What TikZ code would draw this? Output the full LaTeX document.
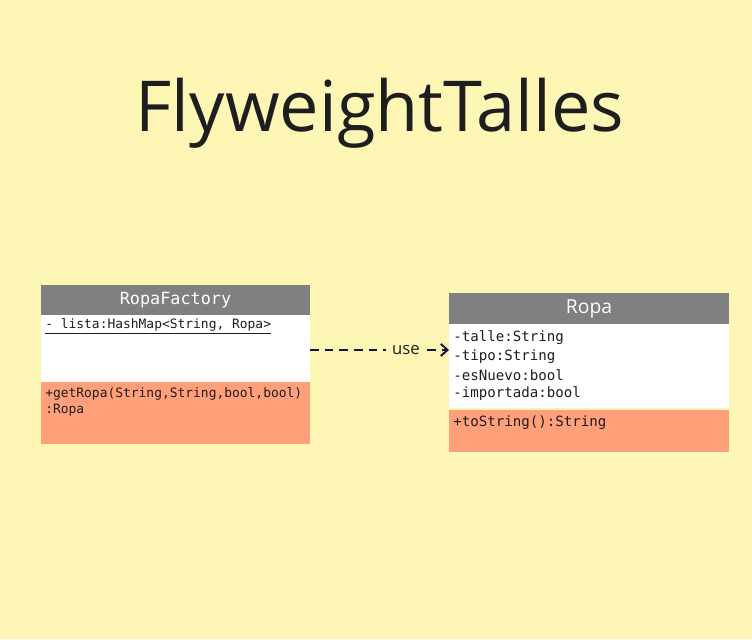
\documentclass[tikz,border=0pt]{standalone}
\usepackage{fontspec}
\setmainfont{Open Sans}
\newfontfamily\monof{DejaVu Sans Mono}
\usetikzlibrary{arrows.meta}
\definecolor{bg}{HTML}{FEF6B4}
\definecolor{hdr}{HTML}{808080}
\definecolor{meth}{HTML}{FFA07A}
\definecolor{ink}{HTML}{1E1E1E}
\definecolor{lineC}{HTML}{14143C}
\tikzset{
  comp/.style={anchor=north west, inner sep=0pt, outer sep=0pt, draw=none},
  txt/.style={anchor=west, inner sep=0pt, text=ink},
  smallmono/.style={txt, font=\monof\fontsize{9.7}{11}\selectfont},
  bigmono/.style={txt, font=\monof\fontsize{10.6}{12}\selectfont},
}
\begin{document}
\begin{tikzpicture}[x=0.75pt,y=-0.75pt]
\fill[bg] (0,0) rectangle (752,639);
\useasboundingbox (0,0) rectangle (752,639);

\node[text=ink, font=\fontsize{52.7}{56}\selectfont] (title) at (380,113) {FlyweightTalles};

% RopaFactory
\node[comp, fill=hdr, minimum width=201.75pt, minimum height=22.5pt] (rfh) at (41,285) {};
\node[text=white, font=\monof\fontsize{12.6}{14}\selectfont] (rfname) at (rfh.center) {RopaFactory};
\node[comp, fill=white, minimum width=201.75pt, minimum height=50.25pt] (rfa) at (41,315) {};
\node[comp, fill=meth, minimum width=201.75pt, minimum height=46.5pt] (rfm) at (41,382) {};
\node[smallmono] (rfa1) at (45,326) {\underline{- lista:HashMap<String, Ropa>}};
\node[smallmono] (rfm1) at (45,394) {+getRopa(String,String,bool,bool)};
\node[smallmono] (rfm2) at (45,410) {:Ropa};

% Ropa
\node[comp, fill=hdr, minimum width=210pt, minimum height=23.25pt] (rh) at (449,293) {};
\node[text=white, font=\fontsize{14.5}{16}\selectfont] (rname) at (rh.center) {Ropa};
\node[comp, fill=white, minimum width=210pt, minimum height=63pt] (ra) at (449,324) {};
\node[comp, fill=meth, minimum width=210pt, minimum height=31.5pt] (rm) at (449,410) {};
\node[bigmono] (ra1) at (453,338) {-talle:String};
\node[bigmono] (ra2) at (453,356.5) {-tipo:String};
\node[bigmono] (ra3) at (453,375) {-esNuevo:bool};
\node[bigmono] (ra4) at (453,393.5) {-importada:bool};
\node[bigmono] (rm1) at (453,422.5) {+toString():String};

% connector
\coordinate (cs) at ([yshift=-1.1pt]rfa.east);
\draw[lineC, line width=1.5pt, dash pattern=on 6.5pt off 4.5pt, -{Straight Barb[length=5pt,width=9pt]}]
  (cs) -- (cs -| ra.west)
  node[pos=0.69, fill=bg, inner xsep=4.5pt, inner ysep=2pt, text=ink, font=\fontsize{12.5}{14}\selectfont] (use) {use};
\end{tikzpicture}
\end{document}
